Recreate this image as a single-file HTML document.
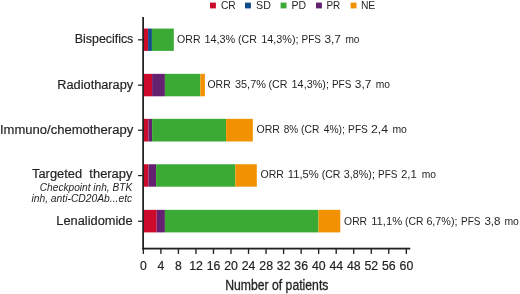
<!DOCTYPE html>
<html lang="en"><head><meta charset="utf-8"><title>Response by treatment</title>
<style>
html,body{margin:0;padding:0;background:#fff;}
body{width:520px;height:294px;overflow:hidden;}
svg{display:block;font-family:"Liberation Sans",sans-serif;fill:#231f20;}
.lab{font-size:12.3px;stroke:#231f20;stroke-width:0.18px;}
.ann{font-size:10.2px;}
.leg{font-size:10.3px;}
.sub{font-size:10.1px;font-style:italic;}
.tick{font-size:12.5px;stroke:#231f20;stroke-width:0.2px;}
.ttl{font-size:13.9px;stroke:#231f20;stroke-width:0.3px;}
</style></head><body>
<svg width="520" height="294" viewBox="0 0 520 294">
<rect x="0" y="0" width="520" height="294" fill="#fff"/>
<rect x="210" y="2.6" width="5.9" height="5.8" fill="#cc0a2c"/>
<text class="leg" x="220.9" y="9.4" textLength="14.8" lengthAdjust="spacingAndGlyphs">CR</text>
<rect x="245" y="2.6" width="5.9" height="5.8" fill="#0f4c8c"/>
<text class="leg" x="256.1" y="9.4" textLength="14.8" lengthAdjust="spacingAndGlyphs">SD</text>
<rect x="280.6" y="2.6" width="5.9" height="5.8" fill="#3aaa35"/>
<text class="leg" x="291.5" y="9.4" textLength="14.6" lengthAdjust="spacingAndGlyphs">PD</text>
<rect x="316" y="2.6" width="5.9" height="5.8" fill="#632170"/>
<text class="leg" x="326.5" y="9.4" textLength="13.8" lengthAdjust="spacingAndGlyphs">PR</text>
<rect x="350.6" y="2.6" width="5.9" height="5.8" fill="#f39200"/>
<text class="leg" x="360.9" y="9.4" textLength="14.4" lengthAdjust="spacingAndGlyphs">NE</text>
<rect x="143.5" y="28.55" width="4.6" height="22.35" fill="#cc0a2c"/>
<rect x="148.1" y="28.55" width="3.8" height="22.35" fill="#0f4c8c"/>
<rect x="151.9" y="28.55" width="21.9" height="22.35" fill="#3aaa35"/>
<rect x="143.5" y="73.85" width="8.6" height="22.45" fill="#cc0a2c"/>
<rect x="152.1" y="73.85" width="12.8" height="22.45" fill="#632170"/>
<rect x="164.9" y="73.85" width="35.4" height="22.45" fill="#3aaa35"/>
<rect x="200.3" y="73.85" width="4.6" height="22.45" fill="#f39200"/>
<rect x="143.5" y="118.85" width="5.0" height="22.65" fill="#cc0a2c"/>
<rect x="148.5" y="118.85" width="3.6" height="22.65" fill="#632170"/>
<rect x="152.1" y="118.85" width="74.0" height="22.65" fill="#3aaa35"/>
<rect x="226.1" y="118.85" width="26.7" height="22.65" fill="#f39200"/>
<rect x="143.5" y="164.25" width="5.0" height="22.45" fill="#cc0a2c"/>
<rect x="148.5" y="164.25" width="7.6" height="22.45" fill="#632170"/>
<rect x="156.1" y="164.25" width="79.2" height="22.45" fill="#3aaa35"/>
<rect x="235.3" y="164.25" width="21.5" height="22.45" fill="#f39200"/>
<rect x="143.5" y="209.85" width="13.2" height="22.55" fill="#cc0a2c"/>
<rect x="156.7" y="209.85" width="8.2" height="22.55" fill="#632170"/>
<rect x="164.9" y="209.85" width="153.6" height="22.55" fill="#3aaa35"/>
<rect x="318.5" y="209.85" width="21.8" height="22.55" fill="#f39200"/>
<rect x="142.25" y="17" width="1.75" height="232.5" fill="#231f20"/>
<rect x="142.25" y="247.7" width="268.0" height="1.8" fill="#231f20"/>
<rect x="138.1" y="39.20" width="4.6" height="1.25" fill="#231f20"/>
<rect x="138.1" y="84.55" width="4.6" height="1.25" fill="#231f20"/>
<rect x="138.1" y="129.65" width="4.6" height="1.25" fill="#231f20"/>
<rect x="138.1" y="174.95" width="4.6" height="1.25" fill="#231f20"/>
<rect x="138.1" y="220.60" width="4.6" height="1.25" fill="#231f20"/>
<rect x="142.68" y="249" width="1.35" height="4.9" fill="#231f20"/>
<text class="tick" x="140.05" y="269.5" textLength="6.8" lengthAdjust="spacingAndGlyphs">0</text>
<rect x="160.21" y="249" width="1.35" height="4.9" fill="#231f20"/>
<text class="tick" x="157.58" y="269.5" textLength="6.8" lengthAdjust="spacingAndGlyphs">4</text>
<rect x="177.74" y="249" width="1.35" height="4.9" fill="#231f20"/>
<text class="tick" x="175.11" y="269.5" textLength="6.8" lengthAdjust="spacingAndGlyphs">8</text>
<rect x="195.27" y="249" width="1.35" height="4.9" fill="#231f20"/>
<text class="tick" x="189.19" y="269.5" textLength="13.7" lengthAdjust="spacingAndGlyphs">12</text>
<rect x="212.80" y="249" width="1.35" height="4.9" fill="#231f20"/>
<text class="tick" x="206.72" y="269.5" textLength="13.7" lengthAdjust="spacingAndGlyphs">16</text>
<rect x="230.33" y="249" width="1.35" height="4.9" fill="#231f20"/>
<text class="tick" x="224.25" y="269.5" textLength="13.7" lengthAdjust="spacingAndGlyphs">20</text>
<rect x="247.86" y="249" width="1.35" height="4.9" fill="#231f20"/>
<text class="tick" x="241.78" y="269.5" textLength="13.7" lengthAdjust="spacingAndGlyphs">24</text>
<rect x="265.39" y="249" width="1.35" height="4.9" fill="#231f20"/>
<text class="tick" x="259.31" y="269.5" textLength="13.7" lengthAdjust="spacingAndGlyphs">28</text>
<rect x="282.92" y="249" width="1.35" height="4.9" fill="#231f20"/>
<text class="tick" x="276.84" y="269.5" textLength="13.7" lengthAdjust="spacingAndGlyphs">32</text>
<rect x="300.45" y="249" width="1.35" height="4.9" fill="#231f20"/>
<text class="tick" x="294.37" y="269.5" textLength="13.7" lengthAdjust="spacingAndGlyphs">36</text>
<rect x="317.98" y="249" width="1.35" height="4.9" fill="#231f20"/>
<text class="tick" x="311.90" y="269.5" textLength="13.7" lengthAdjust="spacingAndGlyphs">40</text>
<rect x="335.51" y="249" width="1.35" height="4.9" fill="#231f20"/>
<text class="tick" x="329.43" y="269.5" textLength="13.7" lengthAdjust="spacingAndGlyphs">44</text>
<rect x="353.04" y="249" width="1.35" height="4.9" fill="#231f20"/>
<text class="tick" x="346.96" y="269.5" textLength="13.7" lengthAdjust="spacingAndGlyphs">48</text>
<rect x="370.57" y="249" width="1.35" height="4.9" fill="#231f20"/>
<text class="tick" x="364.49" y="269.5" textLength="13.7" lengthAdjust="spacingAndGlyphs">52</text>
<rect x="388.10" y="249" width="1.35" height="4.9" fill="#231f20"/>
<text class="tick" x="382.02" y="269.5" textLength="13.7" lengthAdjust="spacingAndGlyphs">56</text>
<rect x="405.63" y="249" width="1.35" height="4.9" fill="#231f20"/>
<text class="tick" x="399.55" y="269.5" textLength="13.7" lengthAdjust="spacingAndGlyphs">60</text>
<text class="ttl" x="225.2" y="290.0" textLength="103.2" lengthAdjust="spacingAndGlyphs">Number of patients</text>
<text class="lab" x="74.8" y="43.3" textLength="58.5" lengthAdjust="spacingAndGlyphs" xml:space="preserve">Bispecifics</text>
<text class="lab" x="57.3" y="88.9" textLength="75.9" lengthAdjust="spacingAndGlyphs" xml:space="preserve">Radiotharapy</text>
<text class="lab" x="0.0" y="134.2" textLength="133.2" lengthAdjust="spacingAndGlyphs" xml:space="preserve">Immuno/chemotherapy</text>
<text class="lab" x="32.0" y="178.0" textLength="100.4" lengthAdjust="spacingAndGlyphs" xml:space="preserve">Targeted  therapy</text>
<text class="sub" x="39.8" y="190.6" textLength="92.4" lengthAdjust="spacingAndGlyphs" xml:space="preserve">Checkpoint inh, BTK</text>
<text class="sub" x="31.4" y="202.4" textLength="100.8" lengthAdjust="spacingAndGlyphs" xml:space="preserve">inh, anti-CD20Ab...etc</text>
<text class="lab" x="56.3" y="225.4" textLength="76.3" lengthAdjust="spacingAndGlyphs" xml:space="preserve">Lenalidomide</text>
<text class="ann" y="42.6"><tspan x="177.1" textLength="23.4" lengthAdjust="spacingAndGlyphs">ORR</tspan> <tspan x="204.4" textLength="30.9" lengthAdjust="spacingAndGlyphs">14,3%</tspan> <tspan x="238.1" textLength="18.8" lengthAdjust="spacingAndGlyphs">(CR</tspan> <tspan x="261.2" textLength="37.3" lengthAdjust="spacingAndGlyphs">14,3%);</tspan> <tspan x="301.5" textLength="19.4" lengthAdjust="spacingAndGlyphs">PFS</tspan> <tspan x="324.4" textLength="16.5" lengthAdjust="spacingAndGlyphs">3,7</tspan> <tspan x="345.4" textLength="14.1" lengthAdjust="spacingAndGlyphs">mo</tspan></text>
<text class="ann" y="87.7"><tspan x="207.5" textLength="23.2" lengthAdjust="spacingAndGlyphs">ORR</tspan> <tspan x="235.0" textLength="30.9" lengthAdjust="spacingAndGlyphs">35,7%</tspan> <tspan x="268.5" textLength="19.0" lengthAdjust="spacingAndGlyphs">(CR</tspan> <tspan x="291.6" textLength="37.3" lengthAdjust="spacingAndGlyphs">14,3%);</tspan> <tspan x="331.9" textLength="19.4" lengthAdjust="spacingAndGlyphs">PFS</tspan> <tspan x="354.8" textLength="16.5" lengthAdjust="spacingAndGlyphs">3,7</tspan> <tspan x="375.8" textLength="14.3" lengthAdjust="spacingAndGlyphs">mo</tspan></text>
<text class="ann" y="133.1"><tspan x="256.5" textLength="23.4" lengthAdjust="spacingAndGlyphs">ORR</tspan> <tspan x="283.8" textLength="14.5" lengthAdjust="spacingAndGlyphs">8%</tspan> <tspan x="301.1" textLength="18.4" lengthAdjust="spacingAndGlyphs">(CR</tspan> <tspan x="323.8" textLength="21.1" lengthAdjust="spacingAndGlyphs">4%);</tspan> <tspan x="348.1" textLength="19.8" lengthAdjust="spacingAndGlyphs">PFS</tspan> <tspan x="371.0" textLength="17.1" lengthAdjust="spacingAndGlyphs">2,4</tspan> <tspan x="392.4" textLength="14.5" lengthAdjust="spacingAndGlyphs">mo</tspan></text>
<text class="ann" y="178.3"><tspan x="260.5" textLength="23.4" lengthAdjust="spacingAndGlyphs">ORR</tspan> <tspan x="287.8" textLength="31.1" lengthAdjust="spacingAndGlyphs">11,5%</tspan> <tspan x="321.7" textLength="18.8" lengthAdjust="spacingAndGlyphs">(CR</tspan> <tspan x="343.8" textLength="31.1" lengthAdjust="spacingAndGlyphs">3,8%);</tspan> <tspan x="378.1" textLength="19.4" lengthAdjust="spacingAndGlyphs">PFS</tspan> <tspan x="401.0" textLength="15.9" lengthAdjust="spacingAndGlyphs">2,1</tspan> <tspan x="421.8" textLength="14.3" lengthAdjust="spacingAndGlyphs">mo</tspan></text>
<text class="ann" y="224.7"><tspan x="344.1" textLength="23.0" lengthAdjust="spacingAndGlyphs">ORR</tspan> <tspan x="371.2" textLength="31.1" lengthAdjust="spacingAndGlyphs">11,1%</tspan> <tspan x="405.1" textLength="18.4" lengthAdjust="spacingAndGlyphs">(CR</tspan> <tspan x="426.4" textLength="31.1" lengthAdjust="spacingAndGlyphs">6,7%);</tspan> <tspan x="461.1" textLength="19.4" lengthAdjust="spacingAndGlyphs">PFS</tspan> <tspan x="484.4" textLength="16.1" lengthAdjust="spacingAndGlyphs">3,8</tspan> <tspan x="504.4" textLength="14.5" lengthAdjust="spacingAndGlyphs">mo</tspan></text>
</svg></body></html>
